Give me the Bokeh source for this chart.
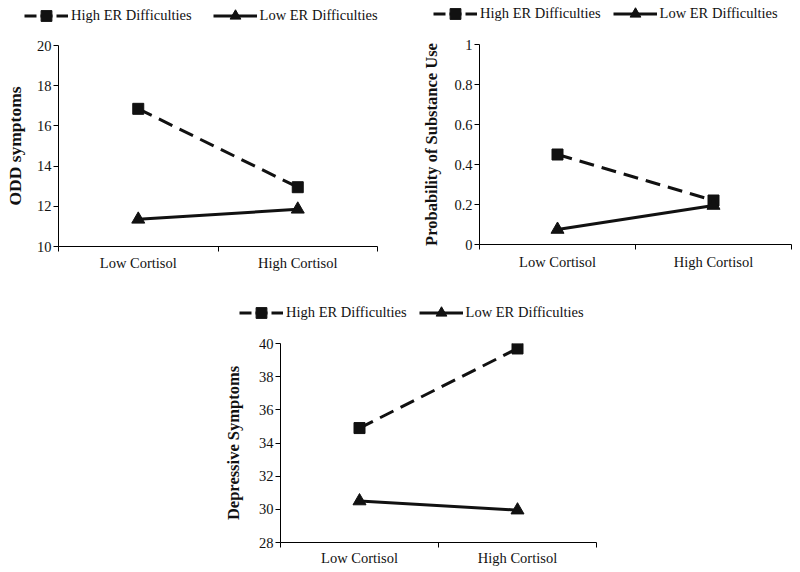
import math
from bokeh.plotting import figure
from bokeh.models import Range1d, FixedTicker, Legend, LegendItem, Spacer
from bokeh.layouts import column, row
from bokeh.embed import file_html
from bokeh.resources import INLINE

# ---------------- data ----------------
categories = ["Low Cortisol", "High Cortisol"]
series_names = ["High ER Difficulties", "Low ER Difficulties"]

odd_high_er = [16.85, 12.95]
odd_low_er = [11.35, 11.85]
odd_ticks = [10, 12, 14, 16, 18, 20]
odd_tick_labels = ["10", "12", "14", "16", "18", "20"]

sub_high_er = [0.45, 0.22]
sub_low_er = [0.075, 0.195]
sub_ticks = [0, 0.2, 0.4, 0.6, 0.8, 1]
sub_tick_labels = ["0", "0.2", "0.4", "0.6", "0.8", "1"]

dep_high_er = [34.9, 39.7]
dep_low_er = [30.5, 29.95]
dep_ticks = [28, 30, 32, 34, 36, 38, 40]
dep_tick_labels = ["28", "30", "32", "34", "36", "38", "40"]

FONT = "Liberation Serif"
INK = "#111111"
HIGH_STYLE = dict(line_width=3, line_dash="15 8", line_color=INK)
HIGH_LEGEND_STYLE = dict(line_width=3, line_dash="12 4", line_color=INK)
LOW_STYLE = dict(line_width=3, line_color=INK)
NO_POINT = [math.nan]   # legend-only renderers draw nothing in the plot area


def legend_strip(width, height, leg_x, leg_y, spacing):
    lf = figure(width=width, height=height, output_backend="svg",
                toolbar_location=None, x_range=Range1d(0, 1), y_range=Range1d(0, 1),
                x_axis_location=None, y_axis_location=None,
                min_border_left=0, min_border_right=0,
                min_border_top=0, min_border_bottom=0, frame_align=False)
    lf.outline_line_color = None
    lf.xgrid.visible = False
    lf.ygrid.visible = False
    r1 = lf.line(x=NO_POINT, y=NO_POINT, **HIGH_LEGEND_STYLE)
    s1 = lf.scatter(x=NO_POINT, y=NO_POINT, marker="square", size=11,
                    fill_color=INK, line_color=INK)
    r2 = lf.line(x=NO_POINT, y=NO_POINT, **LOW_STYLE)
    s2 = lf.scatter(x=NO_POINT, y=NO_POINT, marker="triangle", size=13,
                    fill_color=INK, line_color=INK)
    leg = Legend(items=[LegendItem(label=series_names[0], renderers=[r1, s1]),
                        LegendItem(label=series_names[1], renderers=[r2, s2])],
                 location=(leg_x, leg_y), orientation="horizontal",
                 glyph_width=44, glyph_height=27, label_standoff=3,
                 spacing=spacing, padding=0, margin=0,
                 border_line_color=None, background_fill_alpha=0,
                 label_text_font=FONT, label_text_font_size="14.5px",
                 label_text_color=INK)
    lf.add_layout(leg)
    return lf


def panel(width, height, bl, br, bt, bb, ticks, tick_labels, ylabel, title_size,
          high, low, title_standoff, x_standoff):
    n = len(categories)
    xs = [i + 0.5 for i in range(n)]
    p = figure(width=width, height=height, output_backend="svg",
               toolbar_location=None,
               x_range=Range1d(0, n), y_range=Range1d(ticks[0], ticks[-1]),
               min_border_left=bl, min_border_right=br,
               min_border_top=bt, min_border_bottom=bb, frame_align=False)
    p.outline_line_color = None
    p.xgrid.visible = False
    p.ygrid.visible = False

    xa = p.xaxis[0]
    xa.ticker = FixedTicker(ticks=xs, minor_ticks=list(range(n + 1)))
    xa.major_label_overrides = {x: c for x, c in zip(xs, categories)}
    xa.major_tick_out = 0
    xa.major_tick_in = 0
    xa.minor_tick_out = 5
    xa.minor_tick_in = 0
    xa.major_label_standoff = x_standoff
    for a in (xa, p.yaxis[0]):
        a.axis_line_color = "black"
        a.axis_line_width = 1
        a.major_tick_line_color = "black"
        a.minor_tick_line_color = "black"
        a.major_label_text_font = FONT
        a.major_label_text_font_size = "14.5px"
        a.major_label_text_color = INK

    ya = p.yaxis[0]
    ya.ticker = FixedTicker(ticks=ticks)
    ya.major_label_overrides = {t: l for t, l in zip(ticks, tick_labels)}
    ya.major_tick_out = 5
    ya.major_tick_in = 0
    ya.minor_tick_out = 0
    ya.minor_tick_in = 0
    ya.major_label_standoff = 2
    ya.axis_label = ylabel
    ya.axis_label_text_font = FONT
    ya.axis_label_text_font_style = "bold"
    ya.axis_label_text_font_size = title_size
    ya.axis_label_text_color = INK
    ya.axis_label_standoff = title_standoff

    p.line(xs, high, **HIGH_STYLE)
    p.scatter(xs, high, marker="square", size=11, fill_color=INK, line_color=INK)
    p.line(xs, low, **LOW_STYLE)
    p.scatter(xs, low, marker="triangle", size=13, fill_color=INK, line_color=INK)
    return p


p1 = panel(400, 256, 58, 23, 15, 40, odd_ticks, odd_tick_labels, "ODD symptoms", "17.5px",
           odd_high_er, odd_low_er, 9, 3)
l1 = legend_strip(400, 30, 24, 1, 21)

p2 = panel(400, 256, 79, 9, 14, 42, sub_ticks, sub_tick_labels,
           "Probability of Substance Use", "16.5px",
           sub_high_er, sub_low_er, 10, 4)
l2 = legend_strip(400, 30, 33, 3, 12)

p3 = panel(416, 246, 80, 20, 17, 30, dep_ticks, dep_tick_labels,
           "Depressive Symptoms", "16.5px",
           dep_high_er, dep_low_er, 13, 2)
l3 = legend_strip(416, 40, 39, 0, 12)

layout = column(row(column(l1, p1), column(l2, p2)),
                row(Spacer(width=200, height=286), column(l3, p3)))

open("out.html", "w").write(file_html(layout, INLINE))
